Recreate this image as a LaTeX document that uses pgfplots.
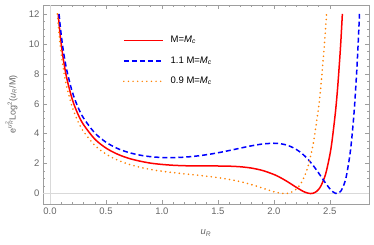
\documentclass[border=0pt]{standalone}
\usepackage{fontspec}
\setmainfont{Liberation Sans}
\usepackage{pgfplots}
\pgfplotsset{compat=1.18}
\definecolor{framegray}{gray}{0.62}
\definecolor{labgray}{gray}{0.40}
\definecolor{axgray}{gray}{0.85}
\definecolor{morange}{rgb}{1,0.5,0}
\newcommand{\uR}{\textit{u}\textsubscript{\textit{R}}}
\begin{document}
\begin{tikzpicture}
\begin{axis}[
  scale only axis,
  width=326pt, height=199pt,
  xmin=-0.0625, xmax=2.85,
  ymin=-0.70, ymax=12.6,
  axis line style={framegray, line width=0.6pt},
  tick align=inside,
  tick style={framegray, line width=0.5pt},
  major tick length=4pt,
  minor tick length=2.3pt,
  xtick={0,0.5,...,2.5},
  minor x tick num=4,
  ytick={0,2,...,12},
  minor y tick num=3,
  xticklabel style={/pgf/number format/.cd, fixed, fixed zerofill, precision=1},
  /pgf/number format/assume math mode=true,
  ticklabel style={font=\fontsize{9.5}{11}\selectfont, text=labgray},
  extra x ticks={0}, extra x tick labels={},
  extra y ticks={0}, extra y tick labels={},
  extra tick style={grid=major, major grid style={axgray, line width=0.8pt}, major tick length=0pt},
  xlabel={\uR},
  xlabel style={font=\fontsize{9.5}{11}\selectfont, text=labgray, at={(rel axis cs:0.5,0)}, anchor=north, yshift=-22pt},
  ylabel={e\raisebox{0.85ex}{\fontsize{6.5}{7}\selectfont\textit{u}\rlap{\raisebox{-0.4ex}{\fontsize{5}{5}\selectfont\textit{R}}}\raisebox{0.8ex}{\fontsize{5}{5}\selectfont 2}}\kern2pt Log\textsuperscript{2}(\uR/M)},
  ylabel style={font=\fontsize{9}{11}\selectfont, text=labgray, at={(rel axis cs:0,0.5)}, anchor=south, yshift=22pt},
  legend cell align=left,
  legend style={draw=none, fill=none, at={(rel axis cs:0.245,0.875)}, anchor=north west, inner sep=0pt,
    row sep=0pt, font=\fontsize{9.5}{11}\selectfont,
    nodes={inner xsep=7pt, inner ysep=1pt, text=black, minimum height=20.5pt}},
  legend image code/.code={\draw[line width=1.6pt,#1] (0pt,0pt) -- (39pt,0pt);},
]
\coordinate (SW) at (rel axis cs:0,0);
\coordinate (NE) at (rel axis cs:1,1);

\addplot[red, line width=1.5pt, smooth] table {
0.073 12.0
0.08 11.44
0.09 10.67
0.1 10.01
0.12 8.93
0.15 7.70
0.2 6.27
0.25 5.30
0.3 4.60
0.4 3.64
0.5 3.04
0.6 2.64
0.7 2.36
0.8 2.17
0.9 2.03
1.0 1.945
1.1 1.889
1.2 1.859
1.3 1.845
1.4 1.842
1.5 1.840
1.6 1.828
1.7 1.789
1.8 1.701
1.9 1.538
2.0 1.275
2.05 1.097
2.1 0.890
2.15 0.658
2.2 0.417
2.25 0.194
2.28 0.085
2.3 0.034
2.32 0.004
2.33 0
2.35 0.018
2.38 0.130
2.4 0.278
2.42 0.502
2.45 1.020
2.47 1.517
2.5 2.567
2.52 3.52
2.55 5.43
2.57 7.09
2.59 9.17
2.6 10.36
2.612 12.0
};
\addlegendentry{M=\textit{M}\textsubscript{\textit{c}}}

\addplot[blue, line width=1.5pt, dash pattern=on 5pt off 3pt, smooth] table {
0.081 12.0
0.09 11.31
0.1 10.63
0.12 9.51
0.15 8.24
0.2 6.77
0.25 5.77
0.3 5.04
0.4 4.05
0.5 3.43
0.6 3.02
0.7 2.750
0.8 2.571
0.9 2.462
1.0 2.408
1.1 2.400
1.2 2.431
1.3 2.497
1.4 2.596
1.5 2.723
1.6 2.872
1.7 3.033
1.8 3.189
1.9 3.311
2.0 3.361
2.05 3.336
2.1 3.268
2.15 3.141
2.2 2.949
2.25 2.683
2.3 2.326
2.35 1.886
2.4 1.370
2.45 0.823
2.5 0.321
2.53 0.102
2.55 0.017
2.563 0
2.58 0.034
2.6 0.176
2.63 0.672
2.65 1.251
2.68 2.62
2.7 3.978
2.72 5.76
2.74 8.13
2.75 9.54
2.76 11.14
2.765 12.0
};
\addlegendentry{1.1 M=\textit{M}\textsubscript{\textit{c}}}

\addplot[morange, line width=1.8pt, line cap=round, dash pattern=on 0pt off 4.6pt, smooth] table {
0.0657 12.0
0.07 11.62
0.08 10.74
0.09 9.99
0.1 9.35
0.12 8.30
0.15 7.12
0.2 5.75
0.25 4.815
0.3 4.14
0.4 3.22
0.5 2.639
0.6 2.244
0.7 1.965
0.8 1.761
0.9 1.608
1.0 1.491
1.1 1.396
1.2 1.315
1.3 1.239
1.4 1.159
1.5 1.065
1.6 0.947
1.7 0.793
1.8 0.595
1.9 0.359
1.95 0.237
2.0 0.123
2.05 0.034
2.07 0.012
2.097 0
2.12 0.011
2.15 0.064
2.2 0.291
2.25 0.783
2.3 1.693
2.35 3.247
2.4 5.784
2.42 7.18
2.45 9.80
2.468 11.72
2.47 11.96
};
\addlegendentry{0.9 M=\textit{M}\textsubscript{\textit{c}}}
\end{axis}
\pgfresetboundingbox
\path ([shift={(-43pt,-40pt)}]SW) rectangle ([shift={(5pt,5pt)}]NE);
\end{tikzpicture}
\end{document}
